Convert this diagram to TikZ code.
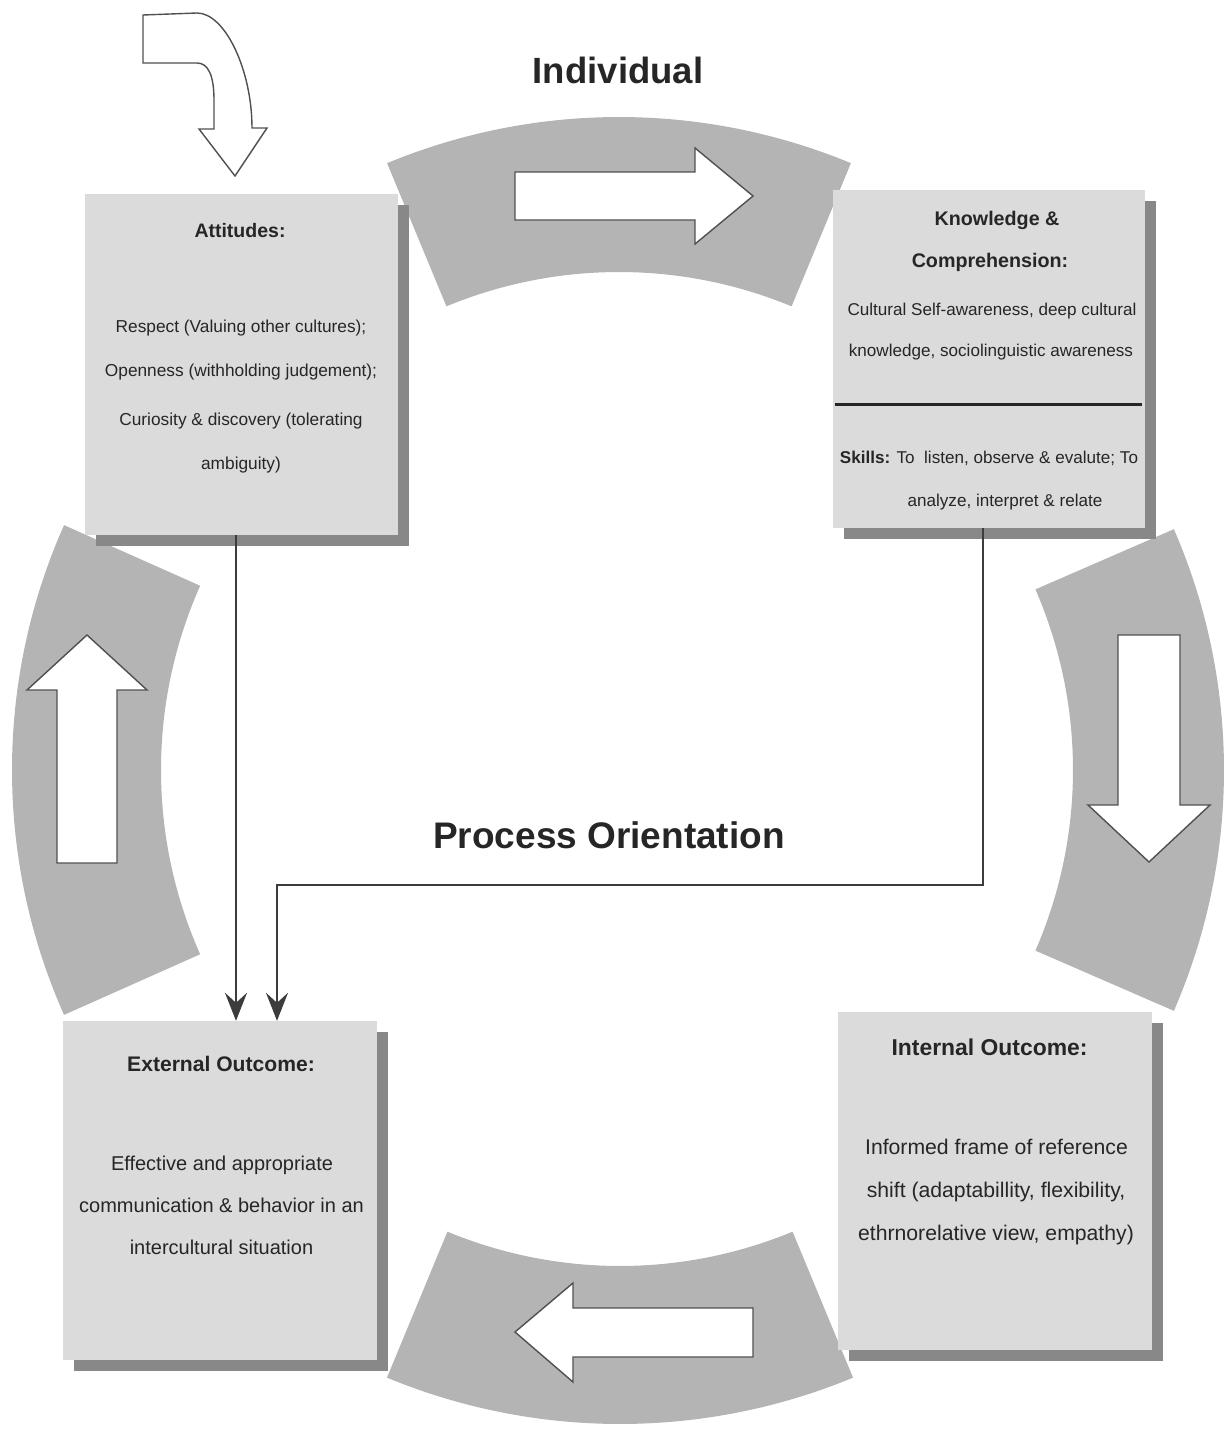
\documentclass[tikz,border=0pt]{standalone}
\usepackage{fontspec}
\setmainfont{Liberation Sans}
\usetikzlibrary{arrows.meta,shadows}

\definecolor{bandgray}{RGB}{180,180,180}
\definecolor{cardgray}{RGB}{219,219,219}
\definecolor{shadowgray}{RGB}{136,136,136}
\definecolor{outlinegray}{RGB}{80,80,80}
\definecolor{linegray}{RGB}{60,60,60}
\definecolor{ink}{RGB}{38,38,38}

% annular sector of the cycle ring: centre x, centre y (down), start, end, inner r, outer r
\newcommand\ringband[6]{%
  \begin{scope}[shift={(#1,-#2)}]
    \fill[band] (#3:#6pt) arc[start angle=#3,end angle=#4,radius=#6pt]
      -- (#4:#5pt) arc[start angle=#4,end angle=#3,radius=#5pt] -- cycle;
  \end{scope}}

\tikzset{
  band/.style={fill=bandgray},
  blockarrow/.style={fill=white, draw=outlinegray, line width=1.4pt, line join=miter},
  card/.style={rectangle, fill=cardgray, draw=none, inner sep=0pt,
    drop shadow={shadow xshift=11pt, shadow yshift=-11pt, fill=shadowgray, opacity=1}},
  txt/.style={anchor=base, text=ink, inner sep=0pt},
  conn/.style={draw=linegray, line width=1.7pt,
    -{Stealth[length=28pt,width=22pt,inset=10pt]}},
}

\begin{document}
\begin{tikzpicture}[x=1pt,y=1pt]
\useasboundingbox (0,0) rectangle (1226,-1432);

% ring of four curved bands
\ringband{619}{723}{67.5}{112.5}{451}{606}
\ringband{620}{815}{247.5}{292.5}{451}{609}
\ringband{614}{770}{156}{204}{453}{602}
\ringband{620}{770}{-23.5}{23.5}{453}{604}

% white block arrows on the bands
\draw[blockarrow] (515,-172) -- (695,-172) -- (695,-148) -- (753,-196)
  -- (695,-244) -- (695,-220) -- (515,-220) -- cycle;
\draw[blockarrow] (753,-1308) -- (573,-1308) -- (573,-1283) -- (515,-1332)
  -- (573,-1382) -- (573,-1357) -- (753,-1357) -- cycle;
\draw[blockarrow] (57,-863) -- (57,-690) -- (27,-690) -- (87,-635)
  -- (147,-690) -- (117,-690) -- (117,-863) -- cycle;
\draw[blockarrow] (1118,-635) -- (1180,-635) -- (1180,-805) -- (1210,-805)
  -- (1149,-862) -- (1088,-805) -- (1118,-805) -- cycle;

% entry arrow bending down into the first card
\draw[blockarrow] (143,-15) -- (197,-13) .. controls (225,-13) and (252,-70) .. (252,-128)
  -- (267,-128) -- (235,-176) -- (199,-129) -- (214,-129) -- (214,-100)
  .. controls (214,-75) and (208,-63) .. (197,-63) -- (143,-63) -- cycle;

% cards
\node[card, minimum width=313pt, minimum height=341pt] (att) at (241.5,-364.5) {};
\node[card, minimum width=312pt, minimum height=338pt] (kno) at (989,-359) {};
\node[card, minimum width=314pt, minimum height=339pt] (ext) at (220,-1190.5) {};
\node[card, minimum width=314pt, minimum height=338pt] (inter) at (995,-1181) {};

% titles
\node[txt, font={\fontsize{36.5}{40}\selectfont\bfseries}] (ttlA) at (618,-83) {Individual};
\node[txt, font={\fontsize{37}{40}\selectfont\bfseries}] (ttlB) at (609,-848) {Process Orientation};

% Attitudes card
\node[txt, font={\fontsize{19.5}{23}\selectfont\bfseries}] (attH) at (240,-237) {Attitudes:};
\node[txt, font={\fontsize{17.3}{20}\selectfont}] (att1) at (241,-332) {Respect (Valuing other cultures);};
\node[txt, font={\fontsize{17.3}{20}\selectfont}] (att2) at (241,-376) {Openness (withholding judgement);};
\node[txt, font={\fontsize{17.3}{20}\selectfont}] (att3) at (241,-425) {Curiosity \& discovery (tolerating};
\node[txt, font={\fontsize{17.3}{20}\selectfont}] (att4) at (241,-469) {ambiguity)};

% Knowledge & Skills card
\node[txt, font={\fontsize{19.7}{23}\selectfont\bfseries}] (knoH1) at (997,-225) {Knowledge \&};
\node[txt, font={\fontsize{19.7}{23}\selectfont\bfseries}] (knoH2) at (990,-267) {Comprehension:};
\node[txt, font={\fontsize{17.1}{20}\selectfont}] (kno1) at (992,-315) {Cultural Self-awareness, deep cultural};
\node[txt, font={\fontsize{17.1}{20}\selectfont}] (kno2) at (991,-356) {knowledge, sociolinguistic awareness};
\draw[draw=ink, line width=3pt] (835,-404) -- (1142,-404);
\node[txt, font={\fontsize{17.1}{20}\selectfont}] (kno3) at (989,-463) {\textbf{Skills:} To\ \ listen, observe \& evalute; To};
\node[txt, font={\fontsize{17.1}{20}\selectfont}] (kno4) at (1005,-506) {analyze, interpret \& relate};

% External Outcome card
\node[txt, font={\fontsize{21.1}{25}\selectfont\bfseries}] (extH) at (221,-1071) {External Outcome:};
\node[txt, font={\fontsize{20}{24}\selectfont}] (ext1) at (222,-1170) {Effective and appropriate};
\node[txt, font={\fontsize{20}{24}\selectfont}] (ext2) at (221.5,-1212) {communication \& behavior in an};
\node[txt, font={\fontsize{20}{24}\selectfont}] (ext3) at (221.5,-1254) {intercultural situation};

% Internal Outcome card
\node[txt, font={\fontsize{22.9}{27}\selectfont\bfseries}] (intH) at (989.5,-1055) {Internal Outcome:};
\node[txt, font={\fontsize{21.2}{25}\selectfont}] (int1) at (996.5,-1154) {Informed frame of reference};
\node[txt, font={\fontsize{21.2}{25}\selectfont}] (int2) at (996,-1197) {shift (adaptabillity, flexibility,};
\node[txt, font={\fontsize{21.2}{25}\selectfont}] (int3) at (996,-1240) {ethrnorelative view, empathy)};

% connectors into the External Outcome card
\coordinate (elbow) at (0,-885);
\draw[conn] ([xshift=-5.5pt]att.south) -- ([xshift=-5.5pt]att.south |- ext.north);
\draw[conn] ([xshift=-6pt]kno.south) -- ([xshift=-6pt]kno.south |- elbow)
  -| ([xshift=57pt]ext.north);
\end{tikzpicture}
\end{document}
